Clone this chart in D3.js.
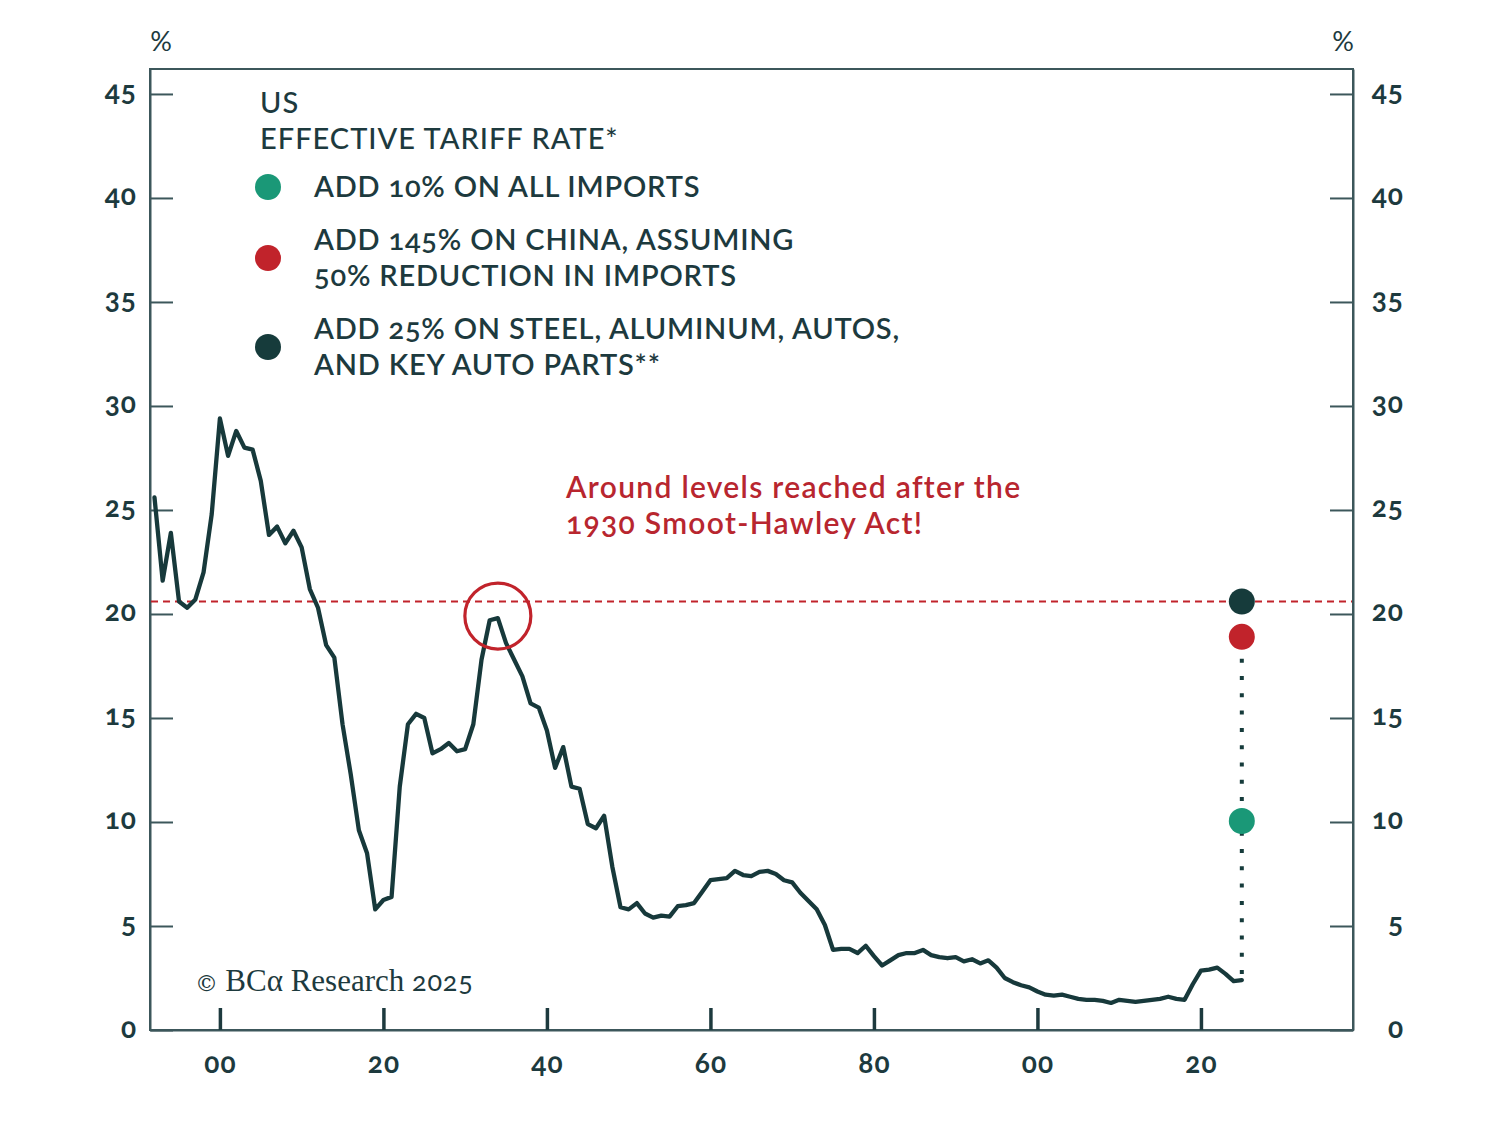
<!DOCTYPE html>
<html>
<head>
<meta charset="utf-8">
<script src="https://cdn.jsdelivr.net/npm/d3@7"></script>
<style>
  html, body { margin: 0; padding: 0; background: #ffffff; }
  svg { display: block; }
  text { font-family: "Lato", "Open Sans", sans-serif; font-variant-numeric: oldstyle-nums; }
</style>
</head>
<body>
<svg id="chart" width="1507" height="1144"></svg>
<script>
// ---------- DATA ----------
const years = d3.range(1892, 2026);
const tariffRate = [
  25.6, 21.6, 23.9, 20.6, 20.3, 20.7, 22.0, 24.8, 29.4, 27.6, // 1892-1901
  28.8, 28.0, 27.9, 26.4, 23.8, 24.2, 23.4, 24.0, 23.2, 21.2, // 1902-1911
  20.3, 18.5, 17.9, 14.7, 12.3, 9.6, 8.5, 5.8, 6.25, 6.4,     // 1912-1921
  11.7, 14.7, 15.2, 15.0, 13.3, 13.5, 13.8, 13.4, 13.5, 14.7, // 1922-1931
  17.8, 19.7, 19.8, 18.6, 17.8, 17.0, 15.7, 15.5, 14.4, 12.6, // 1932-1941
  13.6, 11.7, 11.6, 9.9, 9.7, 10.3, 7.85, 5.9, 5.8, 6.1,      // 1942-1951
  5.6, 5.4, 5.5, 5.45, 5.95, 6.0, 6.1, 6.65, 7.2, 7.25,       // 1952-1961
  7.3, 7.65, 7.45, 7.4, 7.6, 7.65, 7.5, 7.2, 7.1, 6.6,        // 1962-1971
  6.2, 5.8, 5.05, 3.85, 3.9, 3.9, 3.7, 4.05, 3.55, 3.1,       // 1972-1981
  3.35, 3.6, 3.7, 3.7, 3.85, 3.6, 3.5, 3.45, 3.5, 3.3,        // 1982-1991
  3.4, 3.2, 3.35, 3.0, 2.5, 2.3, 2.15, 2.05, 1.85, 1.7,       // 1992-2001
  1.65, 1.7, 1.6, 1.5, 1.45, 1.45, 1.4, 1.3, 1.45, 1.4,       // 2002-2011
  1.35, 1.4, 1.45, 1.5, 1.6, 1.5, 1.45, 2.2, 2.85, 2.9,       // 2012-2021
  3.0, 2.7, 2.35, 2.4                                          // 2022-2025
];
const scenarioYear = 2025;
const scenarioLabels = [
  ["ADD 10% ON ALL IMPORTS"],
  ["ADD 145% ON CHINA, ASSUMING", "50% REDUCTION IN IMPORTS"],
  ["ADD 25% ON STEEL, ALUMINUM, AUTOS,", "AND KEY AUTO PARTS**"]
];
const scenarioValues = [10.05, 18.9, 20.6];
const scenarioColors = ["#1a9877", "#c1232b", "#163b3b"];
const referenceLevel = 20.6;
const yTicks = [0, 5, 10, 15, 20, 25, 30, 35, 40, 45];
const xTicks = [1900, 1920, 1940, 1960, 1980, 2000, 2020];
const peakYear = 1934, peakValue = 19.9;

// ---------- LAYOUT ----------
const L = 150, R = 1353, T = 69, B = 1030;
const ink = "#1d3a3e";
const frame = "#3c575b";
const svg = d3.select("#chart");

const x = d3.scaleLinear().domain([1891.45, 2038.6]).range([L, R]);
const y = d3.scaleLinear().domain([0, 46.2]).range([B, T]);

// frame
svg.append("rect").attr("x", L).attr("y", T).attr("width", R - L).attr("height", B - T)
  .attr("fill", "none").attr("stroke", frame).attr("stroke-width", 2);

// left axis
const gl = svg.append("g").attr("transform", `translate(${L},0)`)
  .call(d3.axisLeft(y).tickValues(yTicks).tickSizeInner(-23).tickSizeOuter(0).tickPadding(13).tickFormat(d3.format("d")));
// right axis
const gr = svg.append("g").attr("transform", `translate(${R},0)`)
  .call(d3.axisRight(y).tickValues(yTicks).tickSizeInner(-23).tickSizeOuter(0).tickPadding(16).tickFormat(d3.format("d")));
gr.selectAll("text").attr("text-anchor", "end").attr("x", 51);
// bottom axis
const gb = svg.append("g").attr("transform", `translate(0,${B})`)
  .call(d3.axisBottom(x).tickValues(xTicks).tickSizeInner(-22).tickSizeOuter(0).tickPadding(22)
    .tickFormat(d => String(d % 100).padStart(2, "0")));

[gl, gr, gb].forEach(g => {
  g.select(".domain").attr("stroke", frame).attr("stroke-width", 2);
  g.selectAll(".tick line").attr("stroke", frame).attr("stroke-width", 2);
  g.selectAll("text").attr("fill", ink).attr("font-size", 28).attr("font-weight", 700)
    .attr("letter-spacing", 1)
    .attr("font-family", "Lato, 'Open Sans', sans-serif");
});
gb.selectAll(".tick line").attr("stroke-width", 3.5).attr("stroke", ink);
gl.selectAll("text").attr("dy", "0.25em");
gr.selectAll("text").attr("dy", "0.25em");
gb.selectAll("text").attr("dy", "0.76em");

// % units
svg.append("text").attr("x", 161).attr("y", 51).attr("text-anchor", "middle")
  .attr("font-size", 27).attr("fill", ink).text("%");
svg.append("text").attr("x", 1343).attr("y", 51).attr("text-anchor", "middle")
  .attr("font-size", 27).attr("fill", ink).text("%");

// reference dashed line
svg.append("line").attr("x1", L + 1).attr("x2", R - 1)
  .attr("y1", y(referenceLevel)).attr("y2", y(referenceLevel))
  .attr("stroke", "#c1232b").attr("stroke-width", 1.8).attr("stroke-dasharray", "7,5");

// dotted vertical connector
svg.append("line").attr("x1", x(scenarioYear)).attr("x2", x(scenarioYear))
  .attr("y1", y(tariffRate[tariffRate.length - 1]) - 6).attr("y2", y(d3.max(scenarioValues)))
  .attr("stroke", "#163b3b").attr("stroke-width", 4).attr("stroke-dasharray", "4,13.3");

// main line
const line = d3.line().x((d, i) => x(years[i])).y(d => y(d)).curve(d3.curveLinear);
svg.append("path").datum(tariffRate).attr("d", line)
  .attr("fill", "none").attr("stroke", "#17393b").attr("stroke-width", 4.3)
  .attr("stroke-linejoin", "round").attr("stroke-linecap", "round");

// highlight circle
svg.append("circle").attr("cx", x(peakYear)).attr("cy", y(peakValue)).attr("r", 33)
  .attr("fill", "none").attr("stroke", "#c1232b").attr("stroke-width", 3.2);

// scenario dots
svg.selectAll(".scen").data(scenarioValues).enter().append("circle")
  .attr("cx", x(scenarioYear)).attr("cy", d => y(d)).attr("r", 13)
  .attr("fill", (d, i) => scenarioColors[i]);

// annotation
const ann = svg.append("text").attr("x", 566).attr("y", 498)
  .attr("font-size", 30).attr("font-weight", 600).attr("letter-spacing", 1.3).attr("fill", "#b8262f");
ann.append("tspan").attr("x", 566).attr("dy", 0).text("Around levels reached after the");
ann.append("tspan").attr("x", 566).attr("dy", 36).text("1930 Smoot-Hawley Act!");

// legend
svg.append("text").attr("x", 260).attr("y", 113).attr("font-size", 29).attr("font-weight", 500)
  .attr("letter-spacing", 1).attr("fill", ink).text("US");
svg.append("text").attr("x", 260).attr("y", 149).attr("font-size", 29).attr("font-weight", 500)
  .attr("letter-spacing", 1).attr("fill", ink).text("EFFECTIVE TARIFF RATE*");
const legendDotY = [187, 258, 347];
scenarioLabels.forEach((lines, i) => {
  svg.append("circle").attr("cx", 268).attr("cy", legendDotY[i]).attr("r", 13).attr("fill", scenarioColors[i]);
  const t = svg.append("text").attr("font-size", 29).attr("font-weight", 600)
    .attr("letter-spacing", 0.8).attr("fill", ink);
  const top = legendDotY[i] - (lines.length - 1) * 18 + 10;
  lines.forEach((s, j) => t.append("tspan").attr("x", 314).attr("y", top + j * 36).text(s));
});

// copyright
const cp = svg.append("text").attr("x", 195).attr("y", 991).attr("fill", ink).attr("font-size", 27);
cp.append("tspan").attr("font-family", "'DejaVu Serif', serif").attr("font-size", 23).text("© ");
cp.append("tspan").attr("font-family", "'Liberation Serif', 'DejaVu Serif', serif").attr("font-size", 31).text("BCα Research ");
cp.append("tspan").attr("font-family", "Lato, sans-serif").attr("font-size", 27).attr("letter-spacing", 0.8).text("2025");
</script>
</body>
</html>
